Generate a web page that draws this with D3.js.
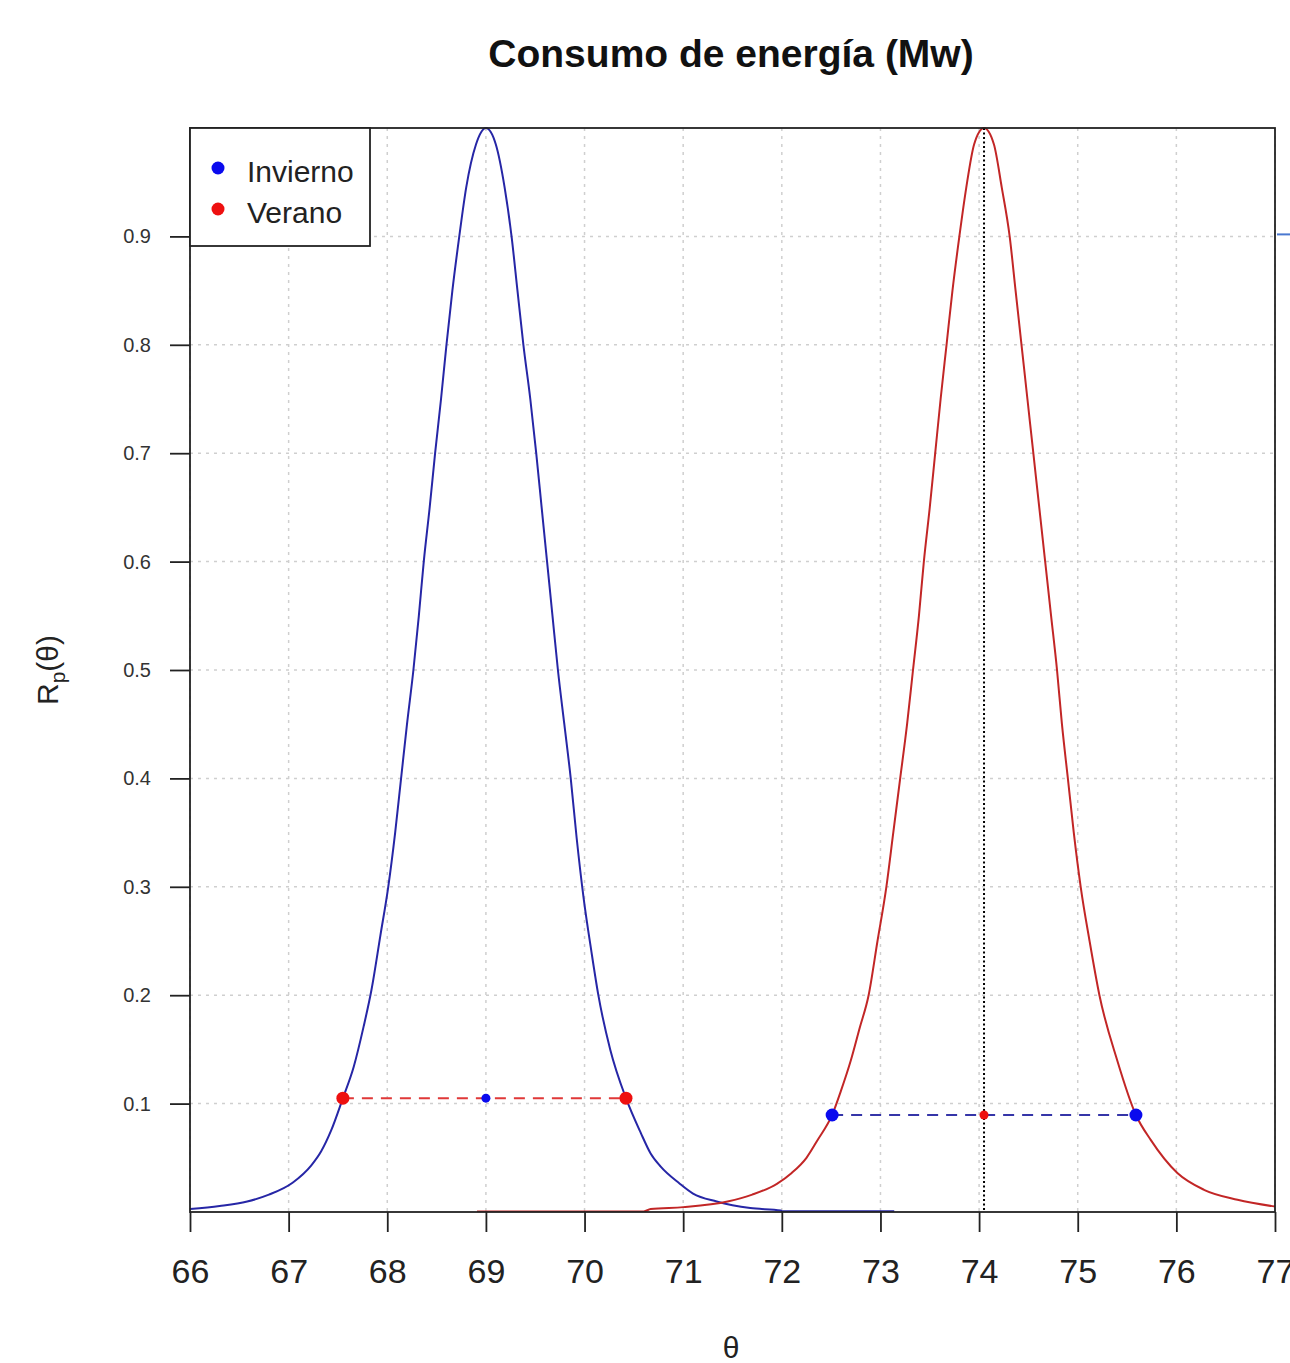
<html>
<script src="https://cdn.jsdelivr.net/npm/d3@7"></script>
<style>
body { margin:0; background:white; }
text { font-family: "Liberation Sans", Arial, sans-serif; }
</style>
<body>
<div id="chart"></div>
</body>
<script>

// values
invTheta = [66.00,66.30,66.58,66.80,67.04,67.23,67.33,67.43,67.55,67.66,67.76,67.84,67.93,68.01,68.08,68.14,68.20,68.265,68.32,68.37,68.43,68.485,68.545,68.60,68.66,68.73,68.80,68.90,69.00,
            69.10,69.19,69.26,69.32,69.38,69.45,69.51,69.565,69.62,69.675,69.73,69.795,69.86,69.92,69.99,70.07,70.14,70.26,70.42,70.57,70.67,70.77,70.96,71.10,71.34,71.68,71.99,72.00,73.14]
invR = [0.0027,0.0055,0.0097,0.016,0.027,0.043,0.056,0.075,0.105,0.134,0.171,0.205,0.255,0.300,0.350,0.400,0.450,0.500,0.550,0.600,0.650,0.700,0.750,0.800,0.850,0.900,0.945,0.985,1.000,
        0.985,0.945,0.900,0.850,0.800,0.750,0.700,0.650,0.600,0.550,0.500,0.450,0.400,0.345,0.290,0.240,0.200,0.150,0.105,0.073,0.054,0.042,0.0265,0.017,0.0097,0.0036,0.0014,0.0008,0.0008]

verTheta = [68.91,70.60,70.67,71.00,71.45,71.70,71.95,72.10,72.25,72.36,72.51,72.60,72.70,72.79,72.88,72.97,73.06,73.13,73.20,73.27,73.33,73.39,73.44,73.50,73.555,73.61,73.67,73.73,73.80,73.87,73.95,74.05,
            74.15,74.23,74.31,74.37,74.43,74.49,74.55,74.61,74.67,74.73,74.79,74.84,74.90,74.96,75.03,75.12,75.22,75.40,75.59,75.74,76.01,76.28,76.62,77.00]
verR = [0.0005,0.0005,0.0027,0.0045,0.0097,0.016,0.026,0.036,0.050,0.066,0.0895,0.112,0.140,0.170,0.200,0.250,0.300,0.350,0.400,0.450,0.500,0.550,0.600,0.650,0.700,0.750,0.800,0.850,0.900,0.945,0.985,1.000,
        0.985,0.945,0.900,0.850,0.800,0.750,0.700,0.650,0.600,0.550,0.500,0.450,0.400,0.350,0.300,0.250,0.200,0.140,0.0895,0.0665,0.036,0.0205,0.0113,0.0050]

// intervals: [low, centre, high, height]
verIntervalo = [67.55, 69.00, 70.42, 0.105]
invIntervalo = [72.51, 74.05, 75.59, 0.0895]
moda = 74.05

xTicks = [66,67,68,69,70,71,72,73,74,75,76,77]
yTicks = [0.1,0.2,0.3,0.4,0.5,0.6,0.7,0.8,0.9]
series = ["Invierno","Verano"]
colores = ["#0a0aee","#ee1010"]

W = 1290; H = 1363
pLeft = 190; pRight = 1275; pTop = 128; pBottom = 1212

svg = d3.select("#chart").append("svg").attr("width",W).attr("height",H)
svg.append("rect").attr("width",W).attr("height",H).attr("fill","white")

x = d3.scaleLinear().domain([66,77]).range([pLeft,pRight])
y = d3.scaleLinear().domain([0,1]).range([pBottom,pTop])

// grid
svg.append("g").selectAll("line").data(xTicks).enter().append("line")
	.attr("x1",d=>x(d)).attr("x2",d=>x(d)).attr("y1",pTop).attr("y2",pBottom)
	.attr("stroke","#cfcfcf").attr("stroke-width",1.5).attr("stroke-dasharray","3,5")
svg.append("g").selectAll("line").data(yTicks).enter().append("line")
	.attr("y1",d=>y(d)).attr("y2",d=>y(d)).attr("x1",pLeft).attr("x2",pRight)
	.attr("stroke","#cfcfcf").attr("stroke-width",1.5).attr("stroke-dasharray","3,5")

svg.append("clipPath").attr("id","pl").append("rect")
	.attr("x",pLeft).attr("y",pTop-2).attr("width",pRight-pLeft).attr("height",pBottom-pTop+2)

line = d3.line().x(d=>x(d[0])).y(d=>y(d[1])).curve(d3.curveMonotoneX)

plot = svg.append("g").attr("clip-path","url(#pl)")
plot.append("path").datum(invTheta.map((t,i)=>[t,invR[i]]))
	.attr("d",line).attr("fill","none").attr("stroke","#2626a6").attr("stroke-width",2)
plot.append("path").datum(verTheta.map((t,i)=>[t,verR[i]]))
	.attr("d",line).attr("fill","none").attr("stroke","#c22626").attr("stroke-width",2)

// moda dotted line
plot.append("line").attr("x1",x(moda)).attr("x2",x(moda)).attr("y1",y(1)).attr("y2",y(0))
	.attr("stroke","black").attr("stroke-width",2).attr("stroke-dasharray","2,2.5")

// intervals
plot.append("line").attr("x1",x(verIntervalo[0])).attr("x2",x(verIntervalo[2]))
	.attr("y1",y(verIntervalo[3])).attr("y2",y(verIntervalo[3]))
	.attr("stroke","#e03838").attr("stroke-width",2).attr("stroke-dasharray","11,8")
plot.append("line").attr("x1",x(invIntervalo[0])).attr("x2",x(invIntervalo[2]))
	.attr("y1",y(invIntervalo[3])).attr("y2",y(invIntervalo[3]))
	.attr("stroke","#3535a8").attr("stroke-width",2).attr("stroke-dasharray","11,8")

plot.append("g").selectAll("circle").data([verIntervalo[0],verIntervalo[2]]).enter().append("circle")
	.attr("cx",d=>x(d)).attr("cy",y(verIntervalo[3])).attr("r",6.5).attr("fill",colores[1])
plot.append("circle").attr("cx",x(verIntervalo[1])).attr("cy",y(verIntervalo[3])).attr("r",4.5).attr("fill",colores[0])
plot.append("g").selectAll("circle").data([invIntervalo[0],invIntervalo[2]]).enter().append("circle")
	.attr("cx",d=>x(d)).attr("cy",y(invIntervalo[3])).attr("r",6.5).attr("fill",colores[0])
plot.append("circle").attr("cx",x(invIntervalo[1])).attr("cy",y(invIntervalo[3])).attr("r",4.5).attr("fill",colores[1])

// stray blue segment past the right edge
svg.append("line").attr("x1",pRight+2).attr("x2",W).attr("y1",y(0.9)-2).attr("y2",y(0.9)-2)
	.attr("stroke","#4a78d0").attr("stroke-width",2)

// frame
svg.append("rect").attr("x",pLeft).attr("y",pTop).attr("width",pRight-pLeft).attr("height",pBottom-pTop)
	.attr("fill","none").attr("stroke","#222").attr("stroke-width",1.8)

// axes
xAxis = svg.append("g").attr("transform","translate(0,"+pBottom+")")
	.call(d3.axisBottom(x).tickValues(xTicks).tickFormat(d3.format("d")).tickSize(20).tickPadding(27))
xAxis.select(".domain").remove()
xAxis.selectAll("line").attr("stroke","#222").attr("stroke-width",1.8)
xAxis.selectAll("text").attr("font-size",34).attr("fill","#222").style("font-family","Liberation Sans, Arial, sans-serif")

yAxis = svg.append("g").attr("transform","translate("+pLeft+",0)")
	.call(d3.axisLeft(y).tickValues(yTicks).tickFormat(d3.format(".1f")).tickSize(20).tickPadding(19))
yAxis.select(".domain").remove()
yAxis.selectAll("line").attr("stroke","#222").attr("stroke-width",1.8)
yAxis.selectAll("text").attr("font-size",20).attr("fill","#333").style("font-family","Liberation Sans, Arial, sans-serif")

// titles
svg.append("text").attr("x",731).attr("y",67).attr("text-anchor","middle")
	.attr("font-size",39).attr("font-weight","bold").attr("fill","#111").text("Consumo de energía (Mw)")
svg.append("text").attr("x",731).attr("y",1358).attr("text-anchor","middle")
	.attr("font-size",30).attr("fill","#222").text("θ")
yl = svg.append("text").attr("transform","translate(58,670) rotate(-90)").attr("text-anchor","middle")
	.attr("font-size",30).attr("fill","#222")
yl.append("tspan").text("R")
yl.append("tspan").attr("font-size",21).attr("dy",7).text("p")
yl.append("tspan").attr("dy",-7).text("(θ)")

// legend
lg = svg.append("g")
lg.append("rect").attr("x",pLeft).attr("y",pTop).attr("width",180).attr("height",118)
	.attr("fill","white").attr("stroke","#222").attr("stroke-width",1.8)
lg.selectAll("circle").data(series).enter().append("circle")
	.attr("cx",pLeft+28).attr("cy",(d,i)=>pTop+40+i*41).attr("r",6.5).attr("fill",(d,i)=>colores[i])
lg.selectAll("text").data(series).enter().append("text")
	.attr("x",pLeft+57).attr("y",(d,i)=>pTop+54+i*41).attr("font-size",30).attr("fill","#222").text(d=>d)

</script>
</html>
